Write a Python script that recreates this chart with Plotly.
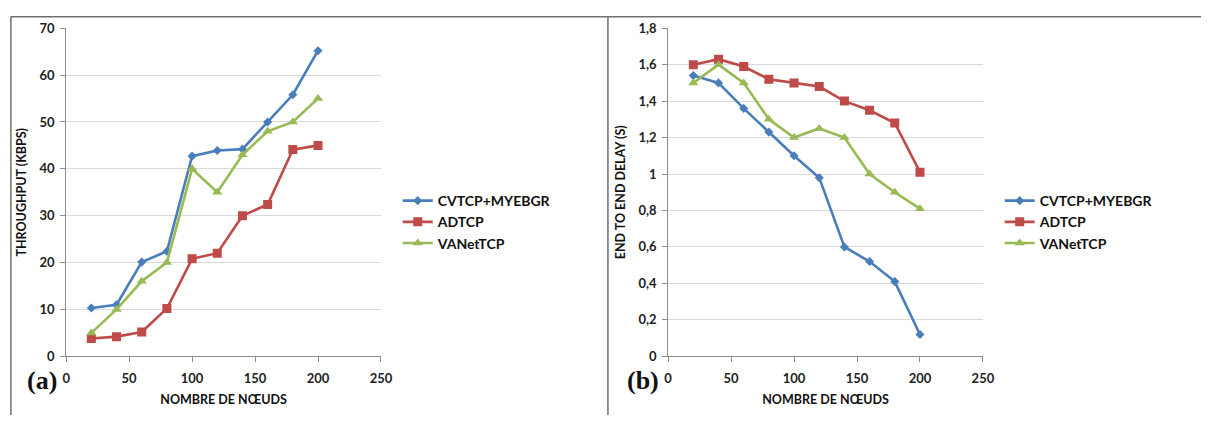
import plotly.graph_objects as go

nodes = [20, 40, 60, 80, 100, 120, 140, 160, 180, 200]
series_names = ["CVTCP+MYEBGR", "ADTCP", "VANetTCP"]

thr_cvtcp = [10.3, 11.0, 20.1, 22.4, 42.7, 43.9, 44.2, 50.0, 55.8, 65.2]
thr_adtcp = [3.8, 4.2, 5.2, 10.2, 20.8, 22.0, 30.0, 32.4, 44.1, 45.0]
thr_vanet = [5.0, 10.0, 16.0, 20.0, 40.0, 35.0, 43.0, 48.0, 50.0, 55.0]

del_cvtcp = [1.54, 1.50, 1.36, 1.23, 1.10, 0.98, 0.60, 0.52, 0.41, 0.12]
del_adtcp = [1.60, 1.63, 1.59, 1.52, 1.50, 1.48, 1.40, 1.35, 1.28, 1.01]
del_vanet = [1.50, 1.60, 1.50, 1.30, 1.20, 1.25, 1.20, 1.00, 0.90, 0.81]

colors = ["#4A7EBB", "#BE4B48", "#98B954"]
symbols = ["diamond", "square", "triangle-up"]
msizes = [7, 9, 9]

W, H = 1214, 423
FONT = "Lato"

fig = go.Figure()

left = [thr_cvtcp, thr_adtcp, thr_vanet]
right = [del_cvtcp, del_adtcp, del_vanet]
for i, (name, ys) in enumerate(zip(series_names, left)):
    fig.add_trace(go.Scatter(
        x=nodes, y=ys, name=name, mode="lines+markers",
        line=dict(color=colors[i], width=2.6),
        marker=dict(symbol=symbols[i], size=msizes[i], color=colors[i]),
        xaxis="x", yaxis="y", legend="legend"))
for i, (name, ys) in enumerate(zip(series_names, right)):
    fig.add_trace(go.Scatter(
        x=nodes, y=ys, name=name, mode="lines+markers",
        line=dict(color=colors[i], width=2.6),
        marker=dict(symbol=symbols[i], size=msizes[i], color=colors[i]),
        xaxis="x2", yaxis="y2", legend="legend2"))

def px(x):
    return min(max(x / W, 0.0), 1.0)

def py(y):
    return min(max((H - y) / H, 0.0), 1.0)

tickfont = dict(family=FONT, size=13, color="#222222", weight="bold")
titlefont = dict(family=FONT, size=12.5, color="#111111")

axis_common = dict(
    showline=True, linecolor="#8C8C8C", linewidth=1,
    ticks="outside", ticklen=5, tickcolor="#8C8C8C",
    tickfont=tickfont, zeroline=False,
)

ydom = [py(362), py(21)]

fig.update_layout(
    autosize=True,
    margin=dict(l=0, r=0, t=0, b=0),
    paper_bgcolor="white", plot_bgcolor="white",
    separators=",.",
    font=dict(family=FONT),
    xaxis=dict(domain=[px(63), px(382)], range=[0, 250], dtick=50, tick0=0,
               showgrid=False, anchor="y", ticklabelstandoff=5,
               title=dict(text="<b>NOMBRE DE NŒUDS</b>", font=titlefont, standoff=10),
               **axis_common),
    yaxis=dict(domain=ydom, range=[0, 70], dtick=10, tick0=0,
               showgrid=True, gridcolor="#D9D9D9", gridwidth=1, anchor="x",
               ticklabelstandoff=3,
               title=dict(text="<b>THROUGHPUT (KBPS)</b>", font=titlefont, standoff=10),
               **axis_common),
    xaxis2=dict(domain=[px(673), px(992)], range=[0, 250], dtick=50, tick0=0,
                showgrid=False, anchor="y2", ticklabelstandoff=5,
                title=dict(text="<b>NOMBRE DE NŒUDS</b>", font=titlefont, standoff=10),
                **axis_common),
    yaxis2=dict(domain=ydom, range=[0, 1.8], dtick=0.2, tick0=0,
                showgrid=True, gridcolor="#D9D9D9", gridwidth=1, anchor="x2",
                ticklabelstandoff=3,
                title=dict(text="<b>END TO END DELAY (S)</b>", font=titlefont, standoff=10),
                **axis_common),
    legend=dict(x=px(399), y=py(184), xanchor="left", yanchor="top",
                font=dict(family=FONT, size=14, color="#111111", weight="bold"),
                bgcolor="rgba(0,0,0,0)", tracegroupgap=0, itemwidth=30),
    legend2=dict(x=px(1009), y=py(184), xanchor="left", yanchor="top",
                 font=dict(family=FONT, size=14, color="#111111", weight="bold"),
                 bgcolor="rgba(0,0,0,0)", tracegroupgap=0, itemwidth=30),
    showlegend=True,
)

# frame lines
line_style = dict(color="#6E6E6E", width=1.5)
fig.add_shape(type="line", xref="paper", yref="paper", x0=px(7), x1=px(1213), y0=py(9), y1=py(9), line=line_style)
fig.add_shape(type="line", xref="paper", yref="paper", x0=px(7), x1=px(7), y0=py(9), y1=0, line=line_style)
fig.add_shape(type="line", xref="paper", yref="paper", x0=px(612), x1=px(612), y0=py(9), y1=0, line=line_style)

# panel labels
for lbl, x in [("(a)", 39), ("(b)", 648)]:
    fig.add_annotation(text="<b>" + lbl + "</b>", xref="paper", yref="paper",
                       x=px(x), y=py(387), xanchor="center", yanchor="middle",
                       showarrow=False,
                       font=dict(family="Liberation Serif", size=26, color="#111111"))

fig.write_html(
    "out.html",
    config={"displayModeBar": False, "responsive": True},
    default_width="100vw", default_height="100vh",
    post_script="document.body.style.margin='0';document.body.style.overflow='hidden';"
                "document.documentElement.style.overflow='hidden';",
)
